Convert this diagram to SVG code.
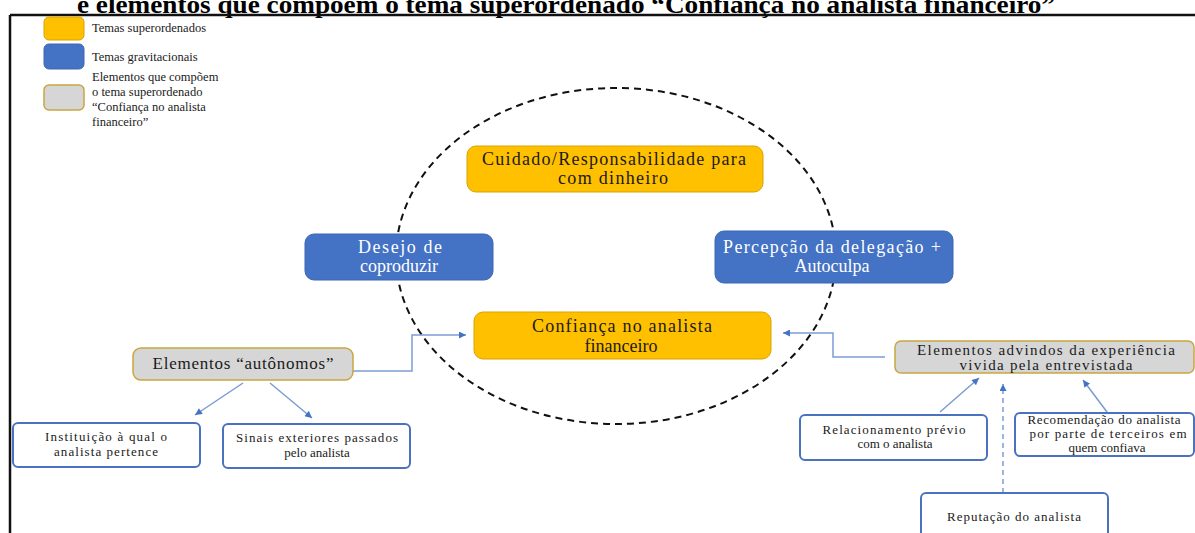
<svg xmlns="http://www.w3.org/2000/svg" width="1195" height="533" viewBox="0 0 1195 533">
<defs>
<marker id="arr" viewBox="0 0 10 10" refX="10" refY="5" markerWidth="8" markerHeight="7" markerUnits="userSpaceOnUse" orient="auto"><path d="M0,0 L10,5 L0,10 z" fill="#4472C4"/></marker>
</defs>
<style>
text{font-family:"Liberation Serif","Times New Roman",serif;}
.t{font-size:18px;fill:#1a1a1a;text-anchor:middle;}
.tw{font-size:18px;fill:#ffffff;text-anchor:middle;}
.ts{font-size:13px;fill:#1a1a1a;text-anchor:middle;}
.tg{font-size:17px;fill:#1a1a1a;text-anchor:middle;}
.tg2{font-size:15px;fill:#1a1a1a;text-anchor:middle;}
.leg{font-size:12.5px;fill:#1a1a1a;}
.orange{fill:#FFC000;stroke:#D9A300;stroke-width:1;}
.blue{fill:#4472C4;stroke:#3D67B3;stroke-width:1;}
.gray{fill:#D6D6D6;stroke:#C9A640;stroke-width:1.5;}
.white{fill:#ffffff;stroke:#4A72BE;stroke-width:2;}
.conn{fill:none;stroke:#7C9CD4;stroke-width:1.5;}
</style>
<rect width="1195" height="533" fill="#ffffff"/>
<text x="566" y="13" font-size="25" font-weight="bold" text-anchor="middle" fill="#000" textLength="978" lengthAdjust="spacingAndGlyphs">e elementos que compõem o tema superordenado “Confiança no analista financeiro”</text>
<g id="frame" stroke="#111" stroke-width="2.5" fill="none">
<line x1="10" y1="15" x2="1195" y2="15"/>
<line x1="10" y1="15" x2="10" y2="533"/>
</g>
<g id="legend">
<rect class="orange" x="44" y="17" width="40" height="23" rx="5"/>
<text class="leg" x="92" y="32">Temas superordenados</text>
<rect class="blue" x="44" y="44" width="40" height="25" rx="5"/>
<text class="leg" x="92" y="61">Temas gravitacionais</text>
<rect class="gray" x="44" y="85" width="40" height="25" rx="5"/>
<text class="leg" x="92" y="81">Elementos que compõem</text>
<text class="leg" x="92" y="96">o tema superordenado</text>
<text class="leg" x="92" y="111">“Confiança no analista</text>
<text class="leg" x="92" y="126">financeiro”</text>
</g>
<ellipse id="circle" cx="616" cy="256" rx="220" ry="168" fill="none" stroke="#111" stroke-width="2" stroke-dasharray="7 5"/>
<g id="connectors">
<path class="conn" d="M353,371 H412 V335 H466" marker-end="url(#arr)"/>
<path class="conn" d="M885,357 H833 V333 H783" marker-end="url(#arr)"/>
<path class="conn" d="M243,383 L195,415" marker-end="url(#arr)"/>
<path class="conn" d="M270,383 L312,418" marker-end="url(#arr)"/>
<path class="conn" d="M940,412 L979,378" marker-end="url(#arr)"/>
<path class="conn" d="M1003,493 V384" stroke-dasharray="5 4" marker-end="url(#arr)"/>
<path class="conn" d="M1107,412 L1083,380" marker-end="url(#arr)"/>
</g>
<g id="cuidado">
<rect class="orange" x="467" y="146" width="296" height="46" rx="9"/>
<text class="t" x="614" y="165" textLength="264" lengthAdjust="spacing">Cuidado/Responsabilidade para</text>
<text class="t" x="613" y="184" textLength="110" lengthAdjust="spacing">com dinheiro</text>
</g>
<g id="desejo">
<rect class="blue" x="305" y="234" width="188" height="46" rx="9"/>
<text class="tw" x="400" y="253" textLength="84" lengthAdjust="spacing">Desejo de</text>
<text class="tw" x="399" y="272">coproduzir</text>
</g>
<g id="percepcao">
<rect class="blue" x="715" y="231" width="238" height="52" rx="9"/>
<text class="tw" x="832" y="253" textLength="218" lengthAdjust="spacing">Percepção da delegação +</text>
<text class="tw" x="832" y="272">Autoculpa</text>
</g>
<g id="confianca">
<rect class="orange" x="474" y="312" width="297" height="47" rx="9"/>
<text class="t" x="622" y="332" textLength="180" lengthAdjust="spacing">Confiança no analista</text>
<text class="t" x="621" y="352">financeiro</text>
</g>
<g id="autonomos">
<rect class="gray" x="133" y="348" width="220" height="32" rx="8"/>
<text class="tg" x="243" y="369" textLength="181" lengthAdjust="spacing">Elementos “autônomos”</text>
</g>
<g id="advindos">
<rect class="gray" x="895" y="341" width="299" height="32" rx="6"/>
<text class="tg2" x="1046" y="355" textLength="258" lengthAdjust="spacing">Elementos advindos da experiência</text>
<text class="tg2" x="1046" y="370" textLength="173" lengthAdjust="spacing">vivida pela entrevistada</text>
</g>
<g id="instituicao">
<rect class="white" x="13" y="423" width="187" height="44" rx="5"/>
<text class="ts" x="106" y="441" textLength="122" lengthAdjust="spacing">Instituição à qual o</text>
<text class="ts" x="106" y="456" textLength="104" lengthAdjust="spacing">analista pertence</text>
</g>
<g id="sinais">
<rect class="white" x="223" y="424" width="187" height="44" rx="5"/>
<text class="ts" x="317" y="442" textLength="162" lengthAdjust="spacing">Sinais exteriores passados</text>
<text class="ts" x="317" y="457">pelo analista</text>
</g>
<g id="relacionamento">
<rect class="white" x="800" y="415" width="187" height="45" rx="5"/>
<text class="ts" x="894" y="434" textLength="143" lengthAdjust="spacing">Relacionamento prévio</text>
<text class="ts" x="895" y="448">com o analista</text>
</g>
<g id="recomendacao">
<rect class="white" x="1015" y="413" width="179" height="43" rx="5"/>
<text class="ts" x="1104" y="424" textLength="153" lengthAdjust="spacing">Recomendação do analista</text>
<text class="ts" x="1108" y="438" textLength="157" lengthAdjust="spacing">por parte de terceiros em</text>
<text class="ts" x="1107" y="452">quem confiava</text>
</g>
<g id="reputacao">
<rect class="white" x="921" y="493" width="187" height="50" rx="5"/>
<text class="ts" x="1014" y="521" textLength="134" lengthAdjust="spacing">Reputação do analista</text>
</g>
</svg>
